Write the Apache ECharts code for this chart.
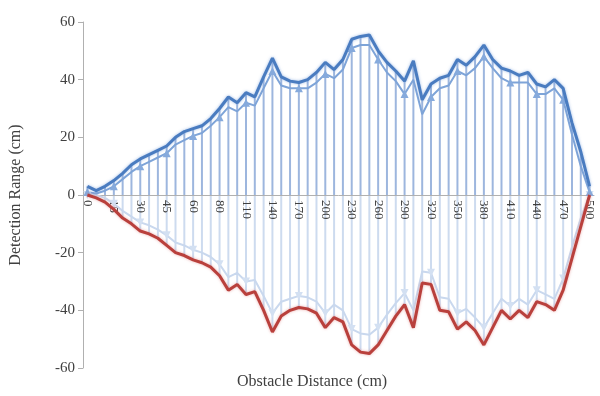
<!DOCTYPE html>
<html>
<head>
<meta charset="utf-8">
<script src="https://cdn.jsdelivr.net/npm/echarts@6/dist/echarts.min.js"></script>
<style>
  html, body { margin: 0; padding: 0; background: #fff; }
  #chart { width: 600px; height: 396px; }
</style>
</head>
<body>
<div id="chart"></div>
<script>
// Obstacle distance (cm) for each measurement
const distances = [0, 5, 10, 15, 20, 25, 30, 35, 40, 45, 50, 55, 60, 65, 70,
  80, 90, 100, 110, 120, 130, 140, 150, 160, 170, 180, 190, 200, 210, 220,
  230, 240, 250, 260, 270, 280, 290, 300, 310, 320, 330, 340, 350, 360, 370,
  380, 390, 400, 410, 420, 430, 440, 450, 460, 470, 480, 490, 500];

// Detection range on the upper side (cm): outer envelope and inner trace
const upperOuter = [3, 1.5, 3, 5, 7.5, 10.5, 12.5, 14, 15.5, 17, 20, 22, 23, 24, 26.5,
  30, 34, 32, 35.5, 34, 41, 47.5, 41, 39.5, 39, 40, 42.5, 46, 43.5, 47,
  54, 55, 55.5, 50, 46, 43, 39.5, 46.5, 33, 38.5, 40.5, 41.5, 47, 45, 48,
  52, 47, 44, 43, 41.5, 42.5, 38.5, 37.5, 40, 37, 25, 15, 3];
const upperInner = [1, 0.5, 1.5, 3, 5.5, 8, 10, 11.5, 13, 14.5, 17.5, 19, 20.5, 21.5, 24,
  27, 30.5, 29, 32, 31, 37, 43, 38, 37, 37, 37, 39, 42, 40.5, 43.5,
  51, 52, 52, 47, 42.5, 39.5, 35, 40, 28, 34, 37, 38, 43, 41.5, 44,
  48, 44, 40.5, 39, 39, 39, 35, 35, 37, 33, 21, 10, 1];

// Detection range on the lower side (cm): outer envelope and inner trace
const lowerOuter = [0, -1, -2.5, -5, -8, -10, -12.5, -13.5, -15, -17.5, -20, -21, -22.5, -23.5, -25,
  -28, -33, -31, -34.5, -33.5, -40, -47.5, -42, -40, -39, -39.5, -41, -46, -42.5, -44,
  -52, -54.5, -55, -52, -47, -42, -38, -46, -30.5, -31, -40, -40.5, -46.5, -44, -47,
  -52, -46, -40, -43, -40, -42.5, -37, -38, -40, -33, -22, -11, 0];
const lowerInner = [0, 0, -1, -3, -5.5, -7.5, -9.5, -10.5, -12, -14, -16.5, -17.5, -19, -20, -21.5,
  -24, -28.5, -27, -30, -29.5, -35, -41, -37, -36, -35, -35.5, -37, -41, -38, -40,
  -46.5, -48, -48.5, -46, -41.5, -37.5, -34, -40, -26.5, -27, -35.5, -36, -41, -39.5, -42.5,
  -46, -41, -36, -38.5, -36, -38, -33, -34.5, -36, -29, -18, -8, 0];

// Value axis ticks
const yTicks = [-60, -40, -20, 0, 20, 40, 60];

const serif = '"Liberation Serif", "Times New Roman", serif';
const textColor = '#404040';

const gridTop = 22, gridBottom = 28, chartHeight = 396;
// category axis sits on the zero line, halfway up the symmetric value range
const zeroOffset = -(chartHeight - gridTop - gridBottom) / 2;

const chart = echarts.init(document.getElementById('chart'), null, { renderer: 'canvas' });

chart.setOption({
  animation: false,
  grid: { left: 81, right: 6, top: gridTop, bottom: gridBottom },
  xAxis: {
    type: 'category',
    data: distances,
    boundaryGap: true,
    offset: zeroOffset,
    z: 2,
    axisLine: { onZero: false, lineStyle: { color: '#b0b0b0', width: 1 } },
    axisTick: { show: false },
    axisLabel: {
      interval: 2,
      rotate: -90,
      margin: 5,
      color: textColor,
      fontFamily: serif,
      fontSize: 13
    },
    splitLine: { show: false }
  },
  yAxis: {
    type: 'value',
    min: yTicks[0],
    max: yTicks[yTicks.length - 1],
    interval: 20,
    name: 'Detection Range (cm)',
    nameLocation: 'middle',
    nameGap: 59,
    nameTextStyle: { color: textColor, fontFamily: serif, fontSize: 16 },
    axisLine: { show: true, lineStyle: { color: '#b0b0b0' } },
    axisTick: { show: true, length: 5, lineStyle: { color: '#b0b0b0' } },
    axisLabel: { color: textColor, fontFamily: serif, fontSize: 15, margin: 8 },
    splitLine: { show: false }
  },
  graphic: [{
    type: 'text',
    left: 237,
    top: 374,
    style: {
      text: 'Obstacle Distance (cm)',
      fill: textColor,
      font: '16px ' + serif
    }
  }],
  series: [
    {
      // drop lines for the upper range
      type: 'bar',
      data: upperOuter,
      barWidth: 2,
      barGap: '-100%',
      itemStyle: { color: '#9db6de' },
      z: 1
    },
    {
      // drop lines for the lower range
      type: 'bar',
      data: lowerOuter,
      barWidth: 2,
      barGap: '-100%',
      itemStyle: { color: '#cddbef' },
      z: 1
    },
    {
      type: 'line',
      data: lowerInner,
      symbol: 'triangle',
      symbolRotate: 180,
      symbolSize: 8,
      showSymbol: true,
      lineStyle: { color: '#c9d8ee', width: 2 },
      itemStyle: { color: '#d3e0f2' },
      z: 3
    },
    {
      type: 'line',
      data: upperInner,
      symbol: 'triangle',
      symbolSize: 8,
      showSymbol: true,
      lineStyle: { color: '#7ea4d8', width: 2 },
      itemStyle: { color: '#86aadc' },
      z: 3
    },
    {
      type: 'line',
      data: lowerOuter,
      symbol: 'none',
      lineStyle: { color: '#b9403c', width: 3, shadowColor: 'rgba(220,120,120,0.6)', shadowBlur: 3 },
      z: 4
    },
    {
      type: 'line',
      data: upperOuter,
      symbol: 'none',
      lineStyle: { color: '#4a7cc0', width: 3, shadowColor: 'rgba(120,160,220,0.7)', shadowBlur: 3 },
      z: 4
    }
  ]
});
</script>
</body>
</html>
